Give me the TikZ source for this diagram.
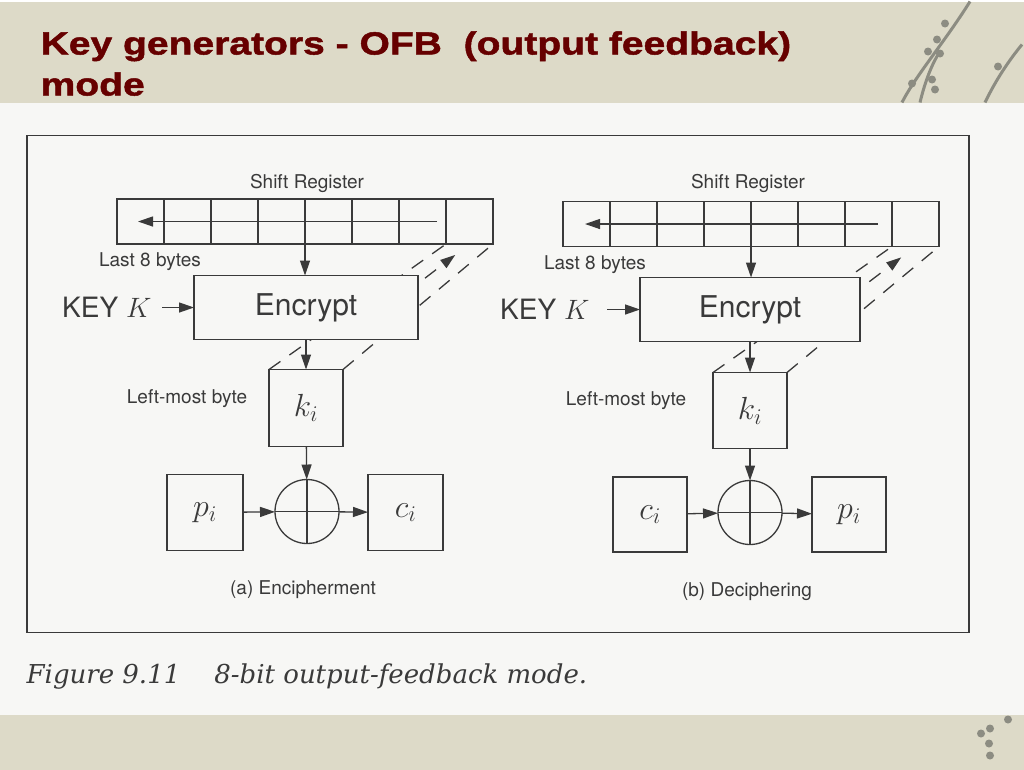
\RequirePackage{fix-cm}
\documentclass[tikz,border=0pt]{standalone}
\usepackage{fontspec}
\setsansfont{TeX Gyre Heros}
\newfontfamily\titlefont{Liberation Sans}[FakeStretch=1.22,FakeBold=1.5]
\newfontfamily\capfont{DejaVu Serif}
\usetikzlibrary{arrows.meta,positioning}
\definecolor{slidebg}{RGB}{221,218,200}
\definecolor{pagebg}{RGB}{247,247,245}
\definecolor{titlered}{RGB}{102,0,0}
\definecolor{ink}{RGB}{58,58,58}
\definecolor{twig}{RGB}{140,140,130}

\begin{document}
\begin{tikzpicture}[x=1pt,y=-1pt,>={Triangle[length=15pt,width=10pt]},
  line width=1.3pt,color=ink,
  cell/.style={draw,minimum width=47pt,minimum height=45pt,inner sep=0pt,outer sep=0pt},
  box node/.style={draw,fill=pagebg,inner sep=0pt,outer sep=0pt},
  xor node/.style={draw,circle,minimum size=64pt,inner sep=0pt,outer sep=0pt},
  small text/.style={font=\sffamily\fontsize{19}{22}\selectfont,inner sep=0pt},
  big text/.style={font=\sffamily\fontsize{28}{32}\selectfont,inner sep=0pt},
  enc text/.style={font=\sffamily\fontsize{30}{34}\selectfont},
  sym/.style={font=\fontsize{32}{36}\selectfont},
  title text/.style={anchor=base west,inner sep=0pt,text=titlered,
    font=\titlefont\bfseries\fontsize{32}{41}\selectfont},
  proj/.style={dash pattern=on 14pt off 11pt}]

  \fill[pagebg] (0,0) rectangle (1024,768);
  \fill[slidebg] (0,0) rectangle (1024,101);
  \fill[slidebg] (0,713) rectangle (1024,768);
  \draw[twig,line width=3pt] (970,0) .. controls (945,40) and (915,75) .. (902,101);
  \draw[twig,line width=3pt] (920,101) .. controls (925,80) and (932,62) .. (940,50);
  \draw[twig,line width=3pt] (985,101) .. controls (995,80) and (1008,60) .. (1022,43);
  \foreach \bx/\by in {945/22,937/38,928/50,940/52,932/78,912/82,935/88,998/65,
    1008/718,990/727,981/732,989/742,990/754}
    \fill[twig] (\bx,\by) circle (4);

  \node[title text] (title1) at (40,53) {Key generators - OFB\ \ (output feedback)};
  \node[title text] (title2) at (40,94) {mode};

  \draw (27,134) rectangle (969,631);

  \foreach \i in {1,...,8}
    \node[cell] (ra\i) at ({117+47*(\i-0.5)},220) {};
  \node[box node,minimum width=74pt,minimum height=77pt,sym] (ka) at (306,406.5) {$k_i$};
  \draw[proj] (ka.north west) -- (ra8.south west);
  \draw[proj] (ka.north east) -- (ra8.south east);
  \draw[proj,->,shorten <=125pt,shorten >=18pt] (ka.north) -- (ra8.south);
  \node[box node,minimum width=224pt,minimum height=64pt,enc text] (enca) at (306,306) {Encrypt};
  \node[small text] (srla) at (307,182) {Shift Register};
  \node[small text] (lasta) at (150,260) {Last 8 bytes};
  \node[big text,left=42pt of enca] (keya) {KEY $K$};
  \node[small text] (lefta) at (187,397) {Left-most byte};
  \node[xor node] (xa) at (307,510) {};
  \node[box node,minimum width=76pt,minimum height=76pt,sym] (pa) at (205,511) {$p_i$};
  \node[box node,minimum width=75pt,minimum height=76pt,sym] (ca) at (405.5,511) {$c_i$};
  \node[small text] (capa) at (303,588) {(a) Encipherment};
  \draw (xa.north) -- (xa.south) (xa.west) -- (xa.east);
  \draw[->] ([xshift=-9pt]ra7.east) -- ([xshift=21pt]ra1.west);

  \path[->]
    (ra4.south east) edge (ra4.south east |- enca.north)
    (keya) edge[shorten <=10pt] (enca)
    (enca) edge (ka)
    (ka) edge (xa)
    (pa) edge (xa)
    (xa) edge (ca);

  \foreach \i in {1,...,8}
    \node[cell] (rb\i) at ({563+47*(\i-0.5)},222.5) {};
  \node[box node,minimum width=74pt,minimum height=76pt,sym] (kb) at (750,409) {$k_i$};
  \draw[proj] (kb.north west) -- (rb8.south west);
  \draw[proj] (kb.north east) -- (rb8.south east);
  \draw[proj,->,shorten <=125pt,shorten >=18pt] (kb.north) -- (rb8.south);
  \node[box node,minimum width=220pt,minimum height=64pt,enc text] (encb) at (750,308) {Encrypt};
  \node[small text] (srlb) at (748,182) {Shift Register};
  \node[small text] (lastb) at (595,263) {Last 8 bytes};
  \node[big text,left=50pt of encb] (keyb) {KEY $K$};
  \node[small text] (leftb) at (626,399) {Left-most byte};
  \node[xor node] (xb) at (750,511) {};
  \node[box node,minimum width=74pt,minimum height=75pt,sym] (cb) at (650,513) {$c_i$};
  \node[box node,minimum width=74pt,minimum height=75pt,sym] (pb) at (849,513) {$p_i$};
  \node[small text] (capb) at (747,590) {(b) Deciphering};
  \draw (xb.north) -- (xb.south) (xb.west) -- (xb.east);
  \draw[->] ([xshift=-14pt]rb7.east) -- ([xshift=22pt]rb1.west);

  \path[->]
    (rb4.south east) edge (rb4.south east |- encb.north)
    (keyb) edge[shorten <=17pt] (encb)
    (encb) edge (kb)
    (kb) edge (xb)
    (cb) edge (xb)
    (xb) edge (pb);

  \node[anchor=base west,inner sep=0pt,font=\capfont\itshape\fontsize{26}{30}\selectfont,
    text=ink] (figcap) at (26,682) {Figure 9.11\hspace{34pt}8-bit output-feedback mode.};

\end{tikzpicture}
\end{document}
